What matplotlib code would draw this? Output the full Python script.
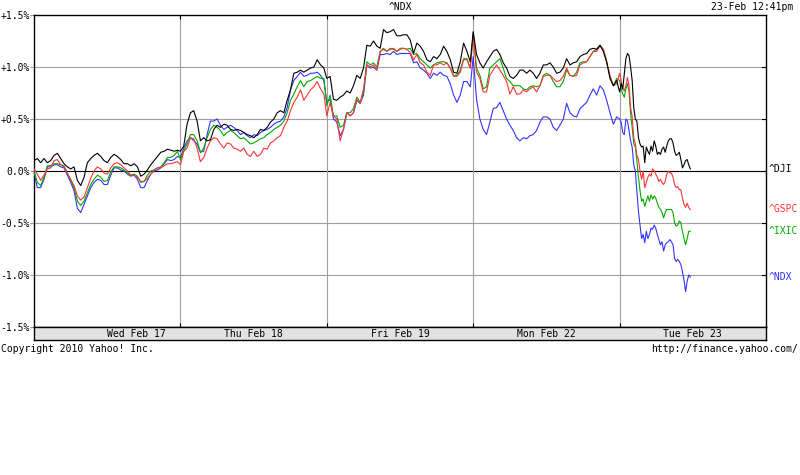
import numpy as np
import matplotlib
matplotlib.use("Agg")
import matplotlib.pyplot as plt

# percent change, one list per index and per session
days = ["Wed Feb 17", "Thu Feb 18", "Fri Feb 19", "Mon Feb 22", "Tue Feb 23"]
day_label_pos = [0.7, 1.5, 2.5, 3.5, 4.5]
day_span = [0.98, 0.98, 0.98, 0.98, 0.483]   # part of each session covered

dji = [
    [0.10, 0.12, 0.08, 0.12, 0.08, 0.10, 0.15, 0.17, 0.12, 0.07, 0.04, 0.02, 0.04, -0.09, -0.14, -0.06,
     0.08, 0.12, 0.15, 0.17, 0.14, 0.10, 0.08, 0.13, 0.16, 0.14, 0.11, 0.07, 0.07, 0.05, 0.07, 0.04,
     -0.05, -0.03, 0.01, 0.06, 0.10, 0.14, 0.18, 0.19, 0.21, 0.20, 0.19, 0.20],
    [0.19, 0.24, 0.45, 0.56, 0.58, 0.48, 0.29, 0.32, 0.29, 0.30, 0.40, 0.44, 0.42, 0.45, 0.44, 0.40,
     0.39, 0.40, 0.39, 0.37, 0.35, 0.34, 0.32, 0.35, 0.40, 0.39, 0.42, 0.47, 0.50, 0.56, 0.58, 0.56,
     0.68, 0.78, 0.94, 0.95, 0.97, 0.95, 0.97, 0.99, 1.00, 1.07, 1.02, 0.99],
    [0.89, 0.91, 0.69, 0.68, 0.71, 0.73, 0.77, 0.75, 0.82, 0.92, 0.89, 0.99, 1.21, 1.20, 1.25, 1.20,
     1.18, 1.36, 1.33, 1.34, 1.36, 1.30, 1.30, 1.31, 1.31, 1.26, 1.13, 1.23, 1.20, 1.15, 1.07, 1.05,
     1.10, 1.08, 1.12, 1.20, 1.15, 1.07, 0.95, 0.94, 1.05, 1.23, 1.15, 1.05],
    [1.34, 1.12, 1.04, 0.99, 1.05, 1.10, 1.15, 1.17, 1.12, 1.04, 0.99, 0.91, 0.89, 0.92, 0.97, 0.97,
     0.94, 0.97, 0.94, 0.89, 0.94, 1.02, 1.02, 1.04, 1.00, 0.94, 0.95, 0.99, 1.08, 1.02, 1.04, 1.05,
     1.10, 1.12, 1.13, 1.17, 1.18, 1.17, 1.21, 1.15, 1.05, 0.89, 0.82, 0.87],
    [0.76, 0.84, 0.79, 0.94, 1.08, 1.13, 1.11, 1.00, 0.87, 0.61, 0.50, 0.48, 0.32, 0.26, 0.23, 0.24,
     0.08, 0.23, 0.19, 0.16, 0.24, 0.19, 0.29, 0.24, 0.16, 0.18, 0.16, 0.21, 0.23, 0.18, 0.24, 0.29,
     0.31, 0.31, 0.27, 0.19, 0.15, 0.16, 0.18, 0.11, 0.03, 0.06, 0.10, 0.11, 0.06, 0.02],
]

gspc = [
    [0.02, -0.03, -0.09, -0.04, 0.02, 0.03, 0.10, 0.11, 0.06, 0.04, -0.02, -0.08, -0.14, -0.24, -0.28, -0.25,
     -0.16, -0.07, 0.00, 0.04, 0.02, -0.02, -0.03, 0.03, 0.07, 0.08, 0.06, 0.03, 0.00, -0.04, -0.04, -0.06,
     -0.10, -0.10, -0.07, -0.03, 0.01, 0.03, 0.03, 0.05, 0.07, 0.07, 0.08, 0.09],
    [0.06, 0.19, 0.22, 0.32, 0.31, 0.22, 0.09, 0.13, 0.22, 0.29, 0.32, 0.31, 0.26, 0.22, 0.27, 0.26,
     0.22, 0.21, 0.19, 0.22, 0.16, 0.14, 0.19, 0.14, 0.16, 0.22, 0.21, 0.27, 0.29, 0.32, 0.34, 0.42,
     0.48, 0.58, 0.66, 0.71, 0.78, 0.68, 0.73, 0.78, 0.81, 0.86, 0.79, 0.74],
    [0.53, 0.66, 0.53, 0.50, 0.29, 0.40, 0.56, 0.53, 0.56, 0.69, 0.65, 0.79, 1.02, 1.00, 1.02, 0.97,
     1.15, 1.17, 1.15, 1.17, 1.18, 1.15, 1.18, 1.18, 1.17, 1.14, 1.07, 1.12, 1.04, 1.02, 0.95, 0.92,
     1.02, 1.02, 1.04, 1.02, 1.04, 0.99, 0.91, 0.91, 0.95, 1.07, 1.07, 0.99],
    [1.31, 0.95, 0.89, 0.76, 0.76, 0.92, 0.97, 1.02, 0.97, 0.92, 0.86, 0.74, 0.81, 0.74, 0.74, 0.78,
     0.76, 0.79, 0.81, 0.76, 0.82, 0.91, 0.92, 0.92, 0.89, 0.86, 0.87, 0.91, 0.99, 0.92, 0.91, 0.92,
     1.02, 1.04, 1.05, 1.10, 1.15, 1.15, 1.20, 1.17, 1.05, 0.91, 0.82, 0.84],
    [0.94, 0.87, 0.79, 0.77, 0.82, 0.90, 0.82, 0.61, 0.52, 0.32, 0.26, 0.15, 0.11, 0.00, -0.08, 0.00,
     -0.16, -0.11, -0.06, -0.03, -0.05, 0.02, 0.00, -0.03, -0.06, -0.10, -0.08, -0.11, -0.13, -0.10, -0.03, 0.00,
     -0.02, -0.02, -0.06, -0.13, -0.16, -0.15, -0.18, -0.18, -0.26, -0.32, -0.35, -0.31, -0.35, -0.37],
]

ixic = [
    [0.00, -0.11, -0.14, -0.06, 0.05, 0.05, 0.07, 0.07, 0.06, 0.05, -0.02, -0.09, -0.16, -0.29, -0.33, -0.29,
     -0.21, -0.13, -0.08, -0.04, -0.06, -0.10, -0.09, -0.01, 0.04, 0.04, 0.03, 0.01, -0.02, -0.04, -0.03, -0.05,
     -0.11, -0.10, -0.04, 0.00, 0.01, 0.03, 0.04, 0.08, 0.13, 0.13, 0.15, 0.19],
    [0.11, 0.19, 0.26, 0.35, 0.35, 0.29, 0.18, 0.22, 0.32, 0.40, 0.44, 0.42, 0.39, 0.34, 0.37, 0.39,
     0.37, 0.34, 0.31, 0.32, 0.29, 0.26, 0.27, 0.29, 0.31, 0.32, 0.35, 0.37, 0.40, 0.42, 0.44, 0.48,
     0.56, 0.68, 0.74, 0.81, 0.87, 0.81, 0.86, 0.87, 0.89, 0.91, 0.89, 0.89],
    [0.63, 0.73, 0.53, 0.53, 0.42, 0.44, 0.56, 0.56, 0.60, 0.71, 0.66, 0.76, 1.05, 1.02, 1.04, 1.00,
     1.15, 1.18, 1.15, 1.18, 1.17, 1.15, 1.17, 1.18, 1.17, 1.18, 1.12, 1.13, 1.08, 1.05, 1.02, 0.99,
     1.02, 1.04, 1.05, 1.05, 1.04, 0.99, 0.92, 0.92, 0.97, 1.08, 1.08, 0.99],
    [1.33, 0.99, 0.92, 0.79, 0.81, 0.99, 1.02, 1.05, 1.08, 0.99, 0.89, 0.86, 0.82, 0.82, 0.82, 0.79,
     0.78, 0.81, 0.82, 0.81, 0.82, 0.92, 0.94, 0.92, 0.86, 0.81, 0.81, 0.86, 0.97, 0.92, 0.91, 0.95,
     1.04, 1.05, 1.05, 1.10, 1.15, 1.17, 1.21, 1.17, 1.05, 0.91, 0.82, 0.89],
    [0.87, 0.79, 0.74, 0.71, 0.79, 0.84, 0.77, 0.55, 0.42, 0.26, 0.23, 0.10, -0.06, -0.19, -0.29, -0.27,
     -0.34, -0.29, -0.24, -0.29, -0.23, -0.27, -0.24, -0.26, -0.31, -0.35, -0.37, -0.40, -0.45, -0.40, -0.37, -0.37,
     -0.37, -0.37, -0.40, -0.50, -0.53, -0.52, -0.48, -0.50, -0.58, -0.65, -0.71, -0.65, -0.58, -0.58],
]

ndx = [
    [-0.01, -0.16, -0.16, -0.08, 0.04, 0.04, 0.06, 0.06, 0.04, 0.03, -0.04, -0.11, -0.19, -0.36, -0.40, -0.32,
     -0.24, -0.16, -0.11, -0.08, -0.09, -0.13, -0.13, -0.04, 0.03, 0.03, 0.01, 0.00, -0.03, -0.05, -0.04, -0.08,
     -0.16, -0.16, -0.09, -0.03, 0.00, 0.01, 0.03, 0.07, 0.11, 0.10, 0.11, 0.14],
    [0.13, 0.22, 0.29, 0.32, 0.29, 0.26, 0.18, 0.19, 0.35, 0.48, 0.48, 0.50, 0.44, 0.40, 0.42, 0.44,
     0.42, 0.39, 0.35, 0.37, 0.34, 0.32, 0.35, 0.34, 0.37, 0.39, 0.40, 0.42, 0.45, 0.47, 0.48, 0.52,
     0.61, 0.78, 0.87, 0.91, 0.95, 0.91, 0.92, 0.94, 0.94, 0.95, 0.92, 0.87],
    [0.66, 0.69, 0.50, 0.47, 0.34, 0.40, 0.56, 0.53, 0.56, 0.68, 0.65, 0.73, 1.02, 0.99, 1.00, 0.97,
     1.12, 1.12, 1.13, 1.12, 1.15, 1.12, 1.13, 1.13, 1.13, 1.13, 1.04, 1.05, 0.99, 0.97, 0.94, 0.89,
     0.94, 0.92, 0.95, 0.92, 0.91, 0.84, 0.73, 0.66, 0.73, 0.86, 0.86, 0.81],
    [1.10, 0.69, 0.50, 0.40, 0.35, 0.47, 0.60, 0.61, 0.66, 0.58, 0.50, 0.44, 0.39, 0.32, 0.29, 0.32,
     0.31, 0.34, 0.35, 0.39, 0.47, 0.52, 0.52, 0.50, 0.42, 0.39, 0.44, 0.50, 0.65, 0.56, 0.53, 0.52,
     0.60, 0.63, 0.66, 0.73, 0.79, 0.73, 0.82, 0.78, 0.68, 0.56, 0.45, 0.52],
    [0.50, 0.47, 0.37, 0.35, 0.50, 0.48, 0.39, 0.29, 0.23, 0.06, 0.00, -0.19, -0.39, -0.52, -0.65, -0.61,
     -0.69, -0.58, -0.65, -0.61, -0.55, -0.56, -0.52, -0.55, -0.61, -0.66, -0.71, -0.68, -0.77, -0.71, -0.69, -0.68,
     -0.66, -0.68, -0.71, -0.84, -0.87, -0.85, -0.87, -0.90, -0.97, -1.05, -1.16, -1.06, -1.00, -1.02],
]

series = [("^NDX", ndx, "#3333ff"), ("^IXIC", ixic, "#00aa00"),
          ("^GSPC", gspc, "#ff3333"), ("^DJI", dji, "#000000")]

yticks = [1.5, 1.0, 0.5, 0.0, -0.5, -1.0, -1.5]
ylabels = ["+1.5%", "+1.0%", "+0.5%", "0.0%", "-0.5%", "-1.0%", "-1.5%"]

plt.rcParams["font.family"] = "DejaVu Sans Mono"
FS = 7.0

fig = plt.figure(figsize=(8, 4.75), dpi=100)
W, H = 800, 475


def box(x0, y0, x1, y1):
    return [x0 / W, 1 - y1 / H, (x1 - x0) / W, (y1 - y0) / H]


ax = fig.add_axes(box(34, 15, 766, 327))
ax.set_xlim(0, 5)
ax.set_ylim(-1.5, 1.5)

for y in [1.0, 0.5, -0.5, -1.0]:
    ax.axhline(y, color="#a0a0a0", lw=0.8, zorder=1)
ax.axhline(0, color="black", lw=0.8, zorder=1)
for d in range(1, 5):
    ax.axvline(d, color="#a0a0a0", lw=0.8, zorder=1)

for name, days_vals, col in series:
    xs, ys = [], []
    for d, vals in enumerate(days_vals):
        xs.append(d + np.linspace(0, day_span[d], len(vals)))
        ys.append(vals)
    x = np.concatenate(xs)
    y = np.concatenate(ys)
    ax.plot(x, y, color=col, lw=0.8, zorder=3)
    ax.annotate(name, xy=(1, y[-1]), xycoords=("axes fraction", "data"),
                xytext=(2, 0), textcoords="offset points", color=col,
                fontsize=FS, va="center", ha="left", annotation_clip=False)

ax.set_yticks(yticks)
ax.set_yticklabels(ylabels)
ax.tick_params(axis="y", which="both", left=True, right=False, length=2.9, width=0.8,
               direction="out", color="#a0a0a0", labelsize=FS, pad=0.3)
ax.set_xticks([1, 2, 3, 4])
ax.set_xticklabels([])
ax.tick_params(axis="x", top=True, bottom=True, direction="in", length=3, width=0.8, color="black")
for s in ax.spines.values():
    s.set_linewidth(1.0)

# black inward ticks on the right
for y in yticks[1:-1]:
    ax.plot([4.973, 5], [y, y], color="black", lw=0.8, zorder=2, clip_on=False)

# date bar
bar = fig.add_axes(box(34, 327, 766, 340))
bar.set_facecolor("#e2e2e2")
bar.set_xlim(0, 5)
bar.set_ylim(0, 1)
bar.set_xticks([])
bar.set_yticks([])
for s in bar.spines.values():
    s.set_linewidth(1.0)
for pos, lab in zip(day_label_pos, days):
    bar.text(pos, 0.45, lab, ha="center", va="center", fontsize=FS)

fig.text(400 / W, 1 - 7 / H, "^NDX", ha="center", va="center", fontsize=FS)
fig.text(793 / W, 1 - 7 / H, "23-Feb 12:41pm", ha="right", va="center", fontsize=FS)
fig.text(1 / W, 1 - 349 / H, "Copyright 2010 Yahoo! Inc.", ha="left", va="center", fontsize=FS)
fig.text(798 / W, 1 - 349 / H, "http://finance.yahoo.com/", ha="right", va="center", fontsize=FS)

fig.savefig("out.png", dpi=100, facecolor="white")
